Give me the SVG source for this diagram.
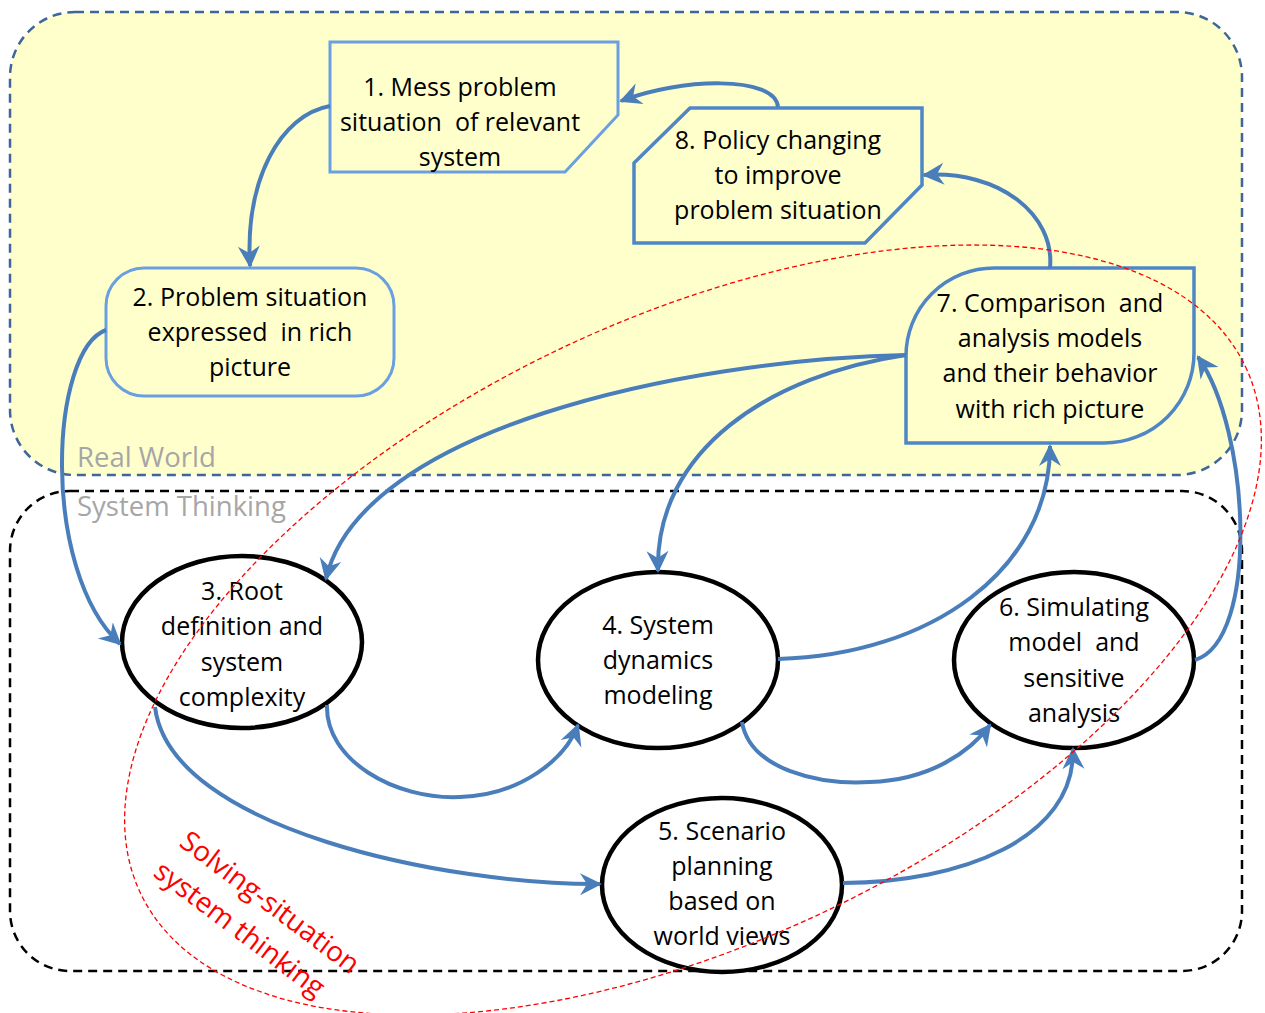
<svg xmlns="http://www.w3.org/2000/svg" width="1265" height="1013" viewBox="0 0 1265 1013">
<style>
text{white-space:pre}
.t{font-family:"Open Sans","Liberation Sans",sans-serif;font-size:25px;fill:#000;text-anchor:middle}
.lbl{font-family:"Open Sans","Liberation Sans",sans-serif;font-size:27.5px;fill:#a6a6a6}
.red{font-family:"Open Sans","Liberation Sans",sans-serif;font-size:28px;fill:#ff0000}
.box1{fill:#ffffcc;stroke:#6a9fe0;stroke-width:3}
.box2{fill:#ffffcc;stroke:#4f86c6;stroke-width:3.5}
.ell{fill:#fff;stroke:#000;stroke-width:4.5}
.con{fill:none;stroke:#4a7ebb;stroke-width:4;marker-end:url(#ah)}
</style>
<defs>
<marker id="ah" markerUnits="userSpaceOnUse" markerWidth="26" markerHeight="26" refX="20" refY="11" orient="auto" viewBox="0 0 26 22">
<path d="M0,0 L22,11 L0,22 L7,11 Z" fill="#4a7ebb"/>
</marker>
</defs>
<rect width="1265" height="1013" fill="#fff"/>
<g id="realworld">
<rect x="10" y="12" width="1232" height="463" rx="65" fill="#ffffcc" stroke="#3f6698" stroke-width="2.5" stroke-dasharray="9 6"/>
<text class="lbl" x="77" y="467">Real World</text>
</g>
<g id="systemthinking">
<rect x="10" y="491" width="1232" height="480" rx="60" fill="none" stroke="#000" stroke-width="2.5" stroke-dasharray="9 6"/>
<text class="lbl" x="77" y="516">System Thinking</text>
</g>
<g id="n1">
<path class="box1" d="M330,42 H618 V115 L565,172 H330 Z"/>
<text class="t" x="460" y="96">1. Mess problem</text>
<text class="t" x="460" y="131">situation  of relevant</text>
<text class="t" x="460" y="166">system</text>
</g>
<g id="n2">
<rect class="box1" x="106" y="268" width="288" height="128" rx="38"/>
<text class="t" x="250" y="306">2. Problem situation</text>
<text class="t" x="250" y="341">expressed  in rich</text>
<text class="t" x="250" y="376">picture</text>
</g>
<g id="n8">
<path class="box2" d="M690,108 H922 V185 L865,243 H634 V163 Z"/>
<text class="t" x="778" y="149">8. Policy changing</text>
<text class="t" x="778" y="184">to improve</text>
<text class="t" x="778" y="219">problem situation</text>
</g>
<g id="n7">
<path class="box2" d="M906,443 V356 A88,88 0 0 1 994,268 H1194 V353 A90,90 0 0 1 1104,443 Z"/>
<text class="t" x="1050" y="312">7. Comparison  and</text>
<text class="t" x="1050" y="347">analysis models</text>
<text class="t" x="1050" y="382">and their behavior</text>
<text class="t" x="1050" y="418">with rich picture</text>
</g>
<g id="n3">
<ellipse class="ell" cx="242" cy="642" rx="120" ry="86"/>
<text class="t" x="242" y="600">3. Root</text>
<text class="t" x="242" y="635">definition and</text>
<text class="t" x="242" y="671">system</text>
<text class="t" x="242" y="706">complexity</text>
</g>
<g id="n4">
<ellipse class="ell" cx="658" cy="660" rx="120" ry="88"/>
<text class="t" x="658" y="634">4. System</text>
<text class="t" x="658" y="669">dynamics</text>
<text class="t" x="658" y="704">modeling</text>
</g>
<g id="n6">
<ellipse class="ell" cx="1074" cy="660" rx="120" ry="88"/>
<text class="t" x="1074" y="616">6. Simulating</text>
<text class="t" x="1074" y="651">model  and</text>
<text class="t" x="1074" y="687">sensitive</text>
<text class="t" x="1074" y="722">analysis</text>
</g>
<g id="n5">
<ellipse class="ell" cx="722" cy="885" rx="120" ry="87"/>
<text class="t" x="722" y="840">5. Scenario</text>
<text class="t" x="722" y="875">planning</text>
<text class="t" x="722" y="910">based on</text>
<text class="t" x="722" y="945">world views</text>
</g>
<g id="connectors">
<path class="con" d="M330,106 C280,115 245,180 250,266"/>
<path class="con" d="M106,330 C50,350 40,570 120,644"/>
<path class="con" d="M778,107 C775,75 680,78 621,101"/>
<path class="con" d="M1050,268 C1055,215 1000,170 924,175"/>
<path class="con" d="M906,355 C680,360 360,430 326,579"/>
<path class="con" d="M906,355 C770,375 655,450 658,571"/>
<path class="con" d="M778,659 C930,655 1050,570 1050,446"/>
<path class="con" d="M1195,660 C1260,640 1250,430 1198,357"/>
<path class="con" d="M327,705 C325,760 395,800 460,797 C520,795 565,760 578,725"/>
<path class="con" d="M742,722 C750,770 820,785 870,782 C930,780 970,752 990,725"/>
<path class="con" d="M155,707 C170,830 450,885 600,884"/>
<path class="con" d="M843,883 C960,882 1075,840 1073,749"/>
</g>
<g id="solving">
<ellipse cx="693" cy="630" rx="612" ry="311" transform="rotate(-25.5 693 630)" fill="none" stroke="#ff0000" stroke-width="1.3" stroke-dasharray="5 3"/>
<text class="red" transform="translate(178,845) rotate(37)">Solving-situation</text>
<text class="red" transform="translate(152,875) rotate(37)">system thinking</text>
</g>
</svg>
